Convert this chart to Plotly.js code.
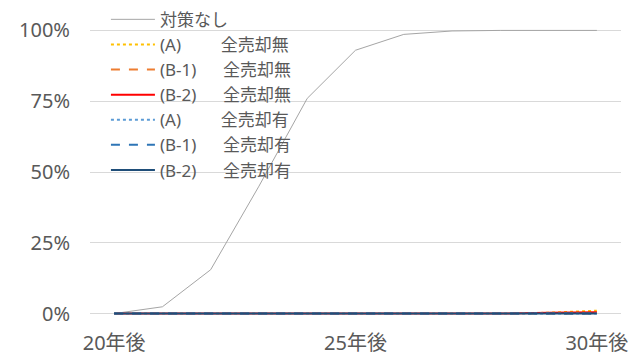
<!DOCTYPE html>
<html>
<head>
<meta charset="utf-8">
<script src="https://cdn.plot.ly/plotly-3.0.1.min.js"></script>
<style>html,body{margin:0;padding:0;background:#fff;}#chart{width:639px;height:356px;}</style>
</head>
<body>
<div id="chart"></div>
<script>
// Data
const years = [0,1,2,3,4,5,6,7,8,9,10];
const xTickVals = [0,5,10];
const xTickText = ["20年後","25年後","30年後"];
const noMeasure = [0,0.024,0.155,0.45,0.76,0.93,0.986,0.998,1,1,1];
const aNoSale = [0,0,0,0,0,0,0,0,0,0.003,0.01];
const b1NoSale = [0,0,0,0,0,0,0,0,0,0,0];
const b2NoSale = [0,0,0,0,0,0,0,0,0,0.003,0.005];
const aSale = [0,0,0,0,0,0,0,0,0,0,0];
const b1Sale = [0,0,0,0,0,0,0,0,0,0,0];
const b2Sale = [0,0,0,0,0,0,0,0,0,0,0];
const NB = "\u00a0";
const names = ["対策なし",
  "(A)" + NB.repeat(9) + "全売却無",
  "(B-1)" + NB.repeat(6) + "全売却無",
  "(B-2)" + NB.repeat(6) + "全売却無",
  "(A)" + NB.repeat(9) + "全売却有",
  "(B-1)" + NB.repeat(6) + "全売却有",
  "(B-2)" + NB.repeat(6) + "全売却有"];

const series = [noMeasure,aNoSale,b1NoSale,b2NoSale,aSale,b1Sale,b2Sale];
const styles = [
  {color:"#a5a5a5", width:1, dash:"solid"},
  {color:"#ffc000", width:2, dash:"dot"},
  {color:"#ed7d31", width:2, dash:"dash"},
  {color:"#ff0000", width:2, dash:"solid"},
  {color:"#5b9bd5", width:2, dash:"dot"},
  {color:"#2e75b6", width:2, dash:"dash"},
  {color:"#1f4e79", width:2, dash:"solid"}
];
const traces = series.map((s,i)=>({
  x: years, y: s, type:"scatter", mode:"lines", name: names[i],
  line: styles[i], hoverinfo:"skip"
}));
const fontFam = "Noto Sans, Noto Sans CJK JP, sans-serif";
const layout = {
  width:639, height:356,
  margin:{l:90, r:18, t:28.6, b:40.6, autoexpand:false},
  paper_bgcolor:"#fff", plot_bgcolor:"#fff",
  font:{family:fontFam, color:"#595959"},
  showlegend:true,
  legend:{x:0.03, xanchor:"left", yref:"container", y:0.995, yanchor:"top",
    itemwidth:44, maxheight:1,
    bgcolor:"rgba(0,0,0,0)", font:{size:17, color:"#595959", family:fontFam}},
  xaxis:{range:[-0.5,10.5], tickvals:xTickVals, ticktext:xTickText,
    showgrid:false, zeroline:false, showline:false, ticks:"",
    tickfont:{size:20, color:"#595959"}, ticklabelstandoff:14, fixedrange:true},
  yaxis:{range:[-0.005,1.005], tickvals:[0,0.25,0.5,0.75,1],
    ticktext:["0%","25%","50%","75%","100%"],
    showgrid:true, gridcolor:"#d9d9d9", gridwidth:1, zeroline:false, showline:false, ticks:"",
    tickfont:{size:20, color:"#595959"}, ticklabelstandoff:19, fixedrange:true}
};
Plotly.newPlot("chart", traces, layout, {displayModeBar:false, staticPlot:true});
</script>
</body>
</html>
